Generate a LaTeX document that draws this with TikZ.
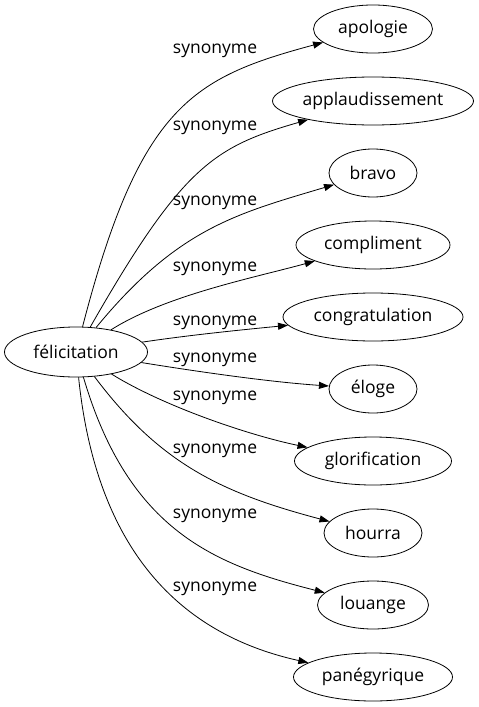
\documentclass[tikz,border=0pt]{standalone}
\usepackage{fontspec}
\setmainfont{Open Sans}
\usetikzlibrary{shapes.geometric, arrows.meta}

\begin{document}
\begin{tikzpicture}[x=1pt, y=-1pt, line width=.8pt,
  every node/.style={ellipse, draw, minimum height=48, inner sep=0, font=\fontsize{17.5}{20}\selectfont},
  syn/.style={draw=none, rectangle, minimum height=0},
  arr/.style={-{Triangle[length=10pt, width=7pt]}}]
  \useasboundingbox (0,0) rectangle (479,707);
  \node (felicitation) [minimum width=143, minimum height=50] at (76, 352) {félicitation};
  \node (apologie) [minimum width=119] at (373, 29) {apologie};
  \node (applaudissement) [minimum width=201] at (373, 101) {applaudissement};
  \node (bravo) [minimum width=88] at (373, 173) {bravo};
  \node (compliment) [minimum width=154] at (373, 245) {compliment};
  \node (congratulation) [minimum width=180] at (373, 317) {congratulation};
  \node (eloge) [minimum width=88] at (373, 389) {éloge};
  \node (glorification) [minimum width=157] at (373, 461) {glorification};
  \node (hourra) [minimum width=98] at (373, 533) {hourra};
  \node (louange) [minimum width=111] at (373, 605) {louange};
  \node (panegyrique) [minimum width=159] at (373, 677) {panégyrique};
  \node (s1) [syn] at (215, 51) {synonyme};
  \node (s2) [syn] at (215, 127.5) {synonyme};
  \node (s3) [syn] at (215, 202.5) {synonyme};
  \node (s4) [syn] at (215, 269) {synonyme};
  \node (s5) [syn] at (215, 323) {synonyme};
  \node (s6) [syn] at (215, 360) {synonyme};
  \node (s7) [syn] at (215, 398) {synonyme};
  \node (s8) [syn] at (215, 450.5) {synonyme};
  \node (s9) [syn] at (215, 516) {synonyme};
  \node (s10) [syn] at (215, 589) {synonyme};
  \draw [arr] (felicitation) .. controls (140, 105) and (193, 77.5) .. (apologie);
  \draw [arr] (felicitation) .. controls (182.5, 165.4) and (214.6, 146.6) .. (applaudissement);
  \draw [arr] (felicitation) .. controls (177.8, 228) and (236.8, 213.7) .. (bravo);
  \draw [arr] (felicitation) .. controls (166, 295) and (255.6, 277.4) .. (compliment);
  \draw [arr] (felicitation) .. controls (190, 335) and (240, 330) .. (congratulation);
  \draw [arr] (felicitation) .. controls (200, 372) and (270, 382) .. (eloge);
  \draw [arr] (felicitation) .. controls (163, 406) and (248, 435) .. (glorification);
  \draw [arr] (felicitation) .. controls (160, 464) and (222, 493) .. (hourra);
  \draw [arr] (felicitation) .. controls (129, 532) and (216, 565) .. (louange);
  \draw [arr] (felicitation) .. controls (99, 577) and (206, 640) .. (panegyrique);
\end{tikzpicture}
\end{document}
